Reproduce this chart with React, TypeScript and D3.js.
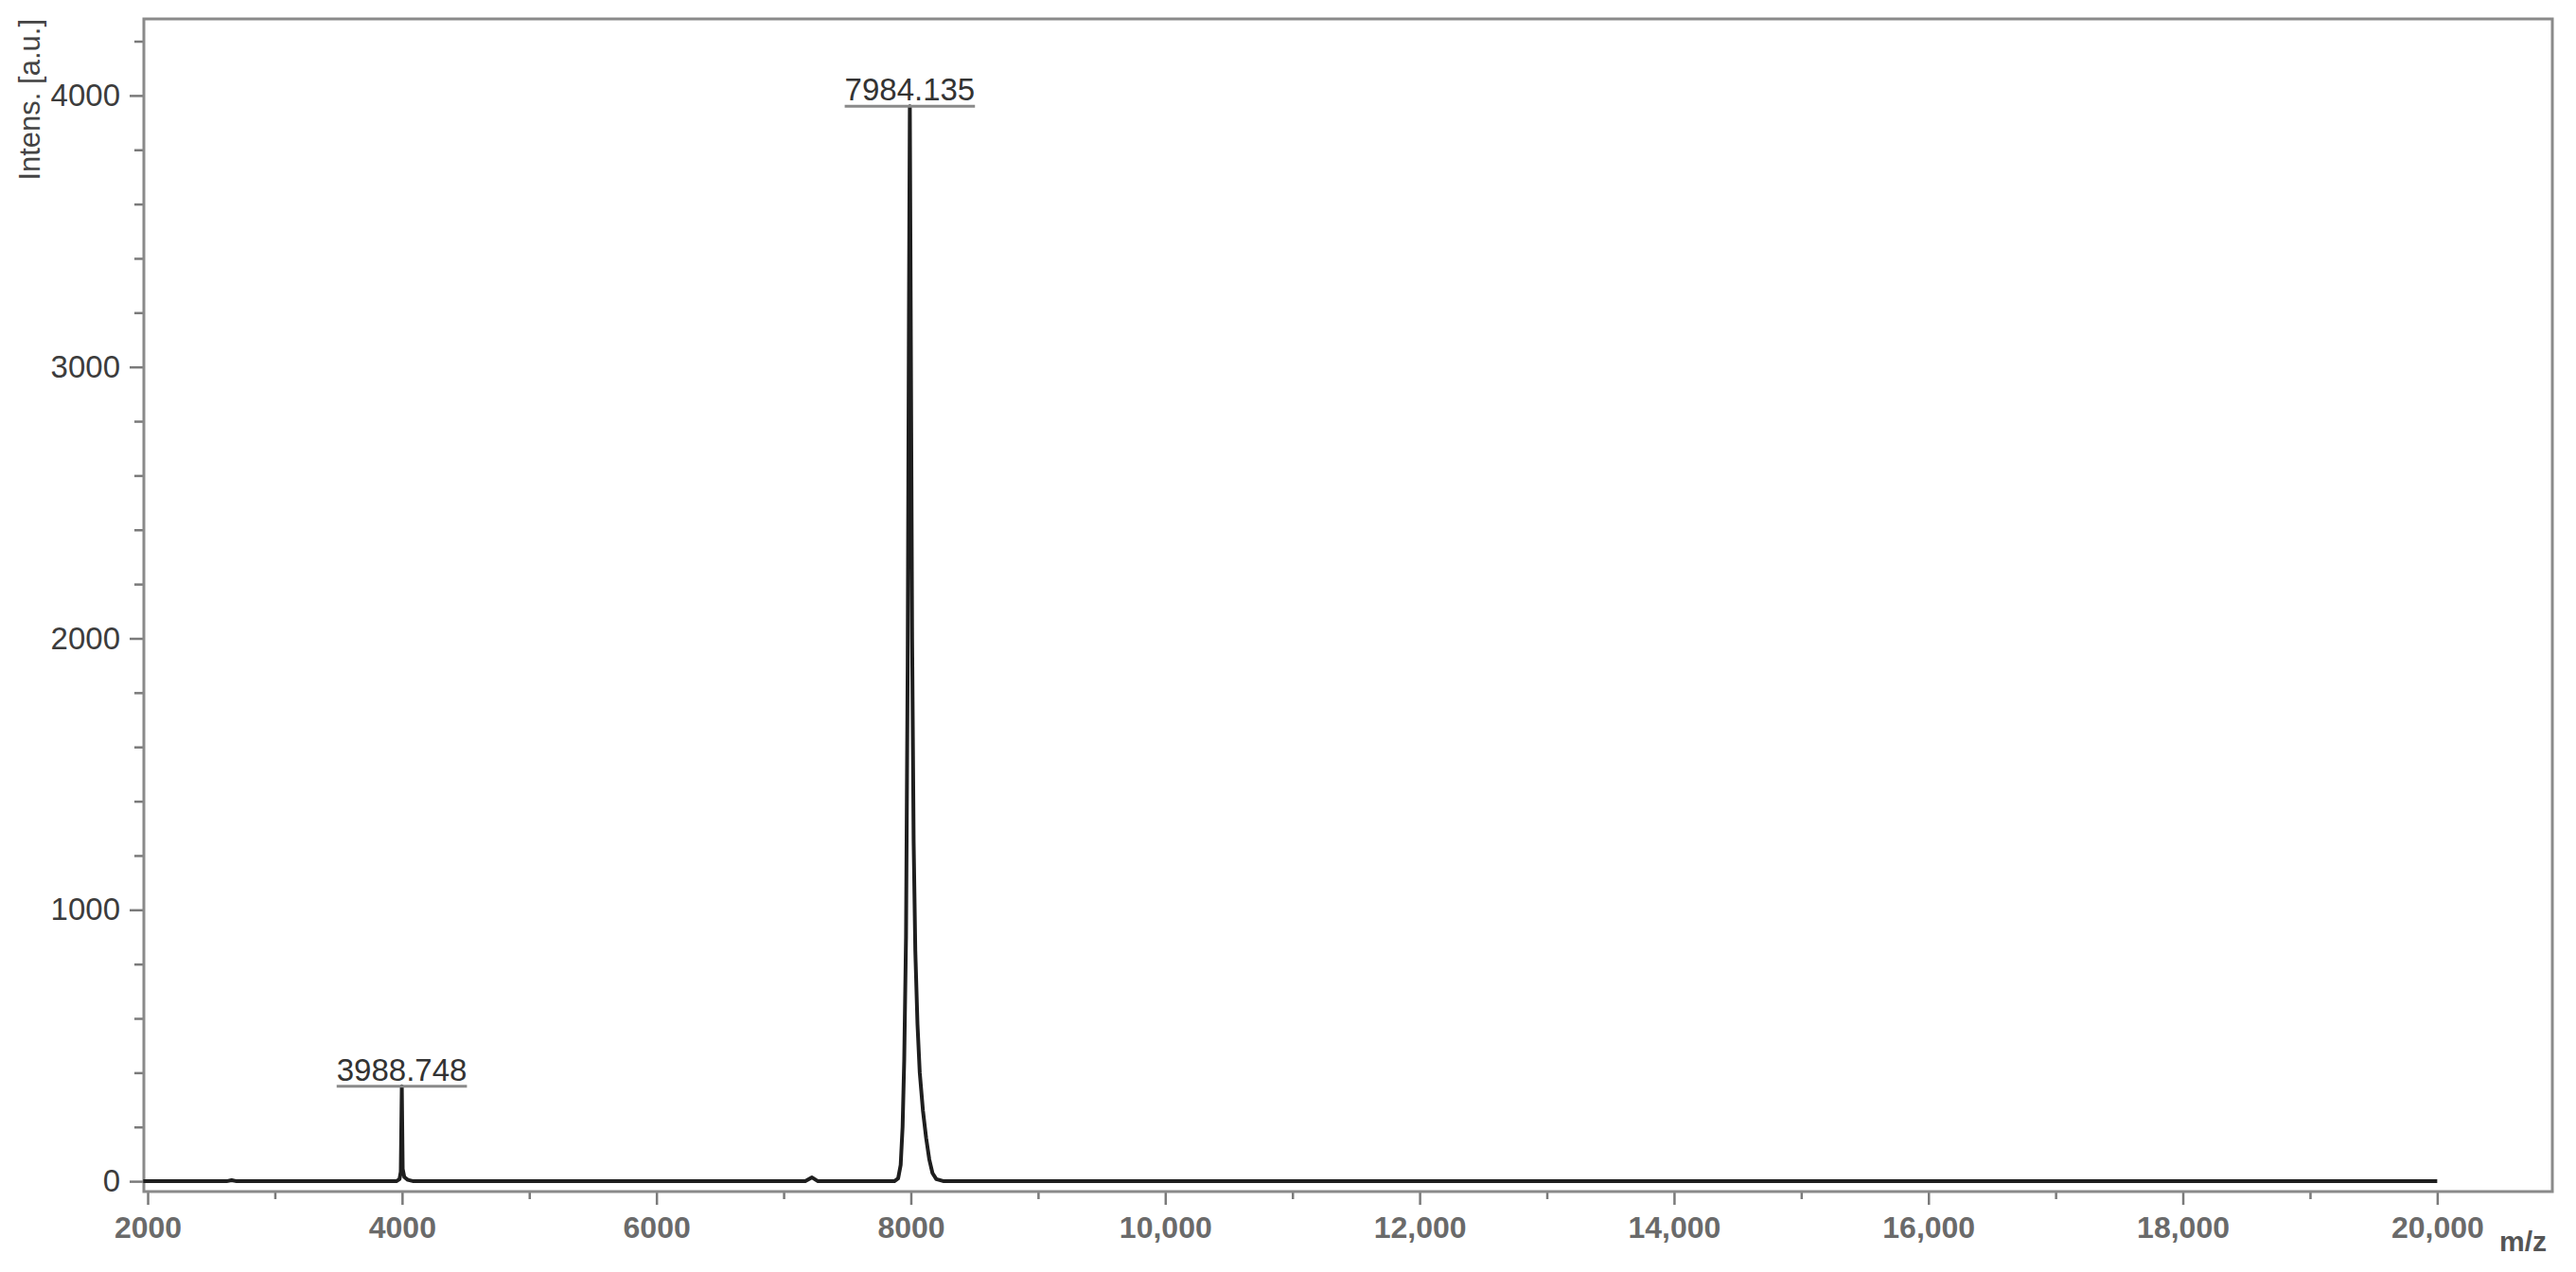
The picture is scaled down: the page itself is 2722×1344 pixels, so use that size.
import React, { useEffect, useRef } from "react";
import * as d3 from "d3";

// spectrum trace (m/z, intensity in a.u.)
const mzValues = [
  1965, 2620, 2660, 2700, 3955, 3980, 3990, 3998, 4005, 4018, 4045, 4090,
  7170, 7223, 7270, 7870, 7900, 7920, 7935, 7948, 7962, 7975, 7985, 7992,
  8000, 8010, 8022, 8035, 8052, 8070, 8095, 8120, 8145, 8170, 8200, 8260, 20000,
];
const intensityValues = [
  0, 0, 4, 0, 0, 8, 35, 350, 45, 15, 5, 0,
  0, 14, 0, 0, 10, 60, 200, 450, 900, 1900, 3200, 3960,
  3100, 2000, 1250, 850, 580, 400, 260, 160, 80, 30, 8, 0, 0,
];

// annotated peaks
const peakMz = [3998, 7992];
const peakIntensity = [350, 3960];
const peakLabels = ["3988.748", "7984.135"];

// axis ticks
const xMajorTicks = [2000, 4000, 6000, 8000, 10000, 12000, 14000, 16000, 18000, 20000];
const xMinorTicks = [3000, 5000, 7000, 9000, 11000, 13000, 15000, 17000, 19000];
const yMajorTicks = [0, 1000, 2000, 3000, 4000];
const yMinorTicks = [200, 400, 600, 800, 1200, 1400, 1600, 1800, 2200, 2400, 2600, 2800, 3200, 3400, 3600, 3800, 4200];

const FONT = "'Liberation Sans', Arial, Helvetica, sans-serif";

export default function App() {
  const ref = useRef<SVGSVGElement | null>(null);

  useEffect(() => {
    const width = 2722;
    const height = 1344;
    const left = 152, right = 2697, top = 20, bottom = 1259;

    const x = d3.scaleLinear().domain([1970, 20905]).range([left, right]);
    const y = d3.scaleLinear().domain([-38, 4282]).range([bottom, top]);

    const svg = d3.select(ref.current);
    svg.selectAll("*").remove();
    svg.attr("width", width).attr("height", height);

    svg.append("rect").attr("width", width).attr("height", height).attr("fill", "#fff");

    // x axis (major + minor)
    const gx = svg.append("g").attr("transform", `translate(0,${bottom})`);
    gx.call(
      d3.axisBottom(x)
        .tickValues(xMajorTicks)
        .tickSize(14)
        .tickPadding(12)
        .tickFormat((d) => (+d < 10000 ? String(d) : d3.format(",")(+d)))
    );
    const gxm = svg.append("g").attr("transform", `translate(0,${bottom})`);
    gxm.call(d3.axisBottom(x).tickValues(xMinorTicks).tickSize(8).tickFormat(() => ""));

    [gx, gxm].forEach((g) => {
      g.select(".domain").remove();
      g.selectAll(".tick line").attr("stroke", "#7a7a7a").attr("stroke-width", 2.5);
    });
    gx.selectAll(".tick text")
      .attr("fill", "#6a6a6a")
      .style("font-family", FONT)
      .style("font-size", "32px")
      .style("font-weight", "bold");

    // y axis (major + minor)
    const gy = svg.append("g").attr("transform", `translate(${left},0)`);
    gy.call(d3.axisLeft(y).tickValues(yMajorTicks).tickSize(15).tickPadding(10).tickFormat(d3.format("d")));
    const gym = svg.append("g").attr("transform", `translate(${left},0)`);
    gym.call(d3.axisLeft(y).tickValues(yMinorTicks).tickSize(10).tickFormat(() => ""));

    [gy, gym].forEach((g) => {
      g.select(".domain").remove();
      g.selectAll(".tick line").attr("stroke", "#7a7a7a").attr("stroke-width", 2.5);
    });
    gy.selectAll(".tick text")
      .attr("fill", "#3c3c3c")
      .style("font-family", FONT)
      .style("font-size", "33px");

    // frame
    svg.append("rect")
      .attr("x", left)
      .attr("y", top)
      .attr("width", right - left)
      .attr("height", bottom - top)
      .attr("fill", "none")
      .attr("stroke", "#8a8a8a")
      .attr("stroke-width", 3);

    // spectrum
    const pts: [number, number][] = mzValues.map((m, i) => [m, intensityValues[i]]);
    const line = d3.line<[number, number]>()
      .x((d) => x(d[0]))
      .y((d) => y(d[1]))
      .curve(d3.curveLinear);

    svg.append("path")
      .datum(pts)
      .attr("fill", "none")
      .attr("stroke", "#1e1e1e")
      .attr("stroke-width", 4)
      .attr("stroke-linejoin", "round")
      .attr("d", line);

    // peak annotations
    peakMz.forEach((m, i) => {
      const px = x(m);
      const py = y(peakIntensity[i]);
      const t = svg.append("text")
        .attr("x", px)
        .attr("y", py - 6)
        .attr("text-anchor", "middle")
        .attr("fill", "#333")
        .style("font-family", FONT)
        .style("font-size", "33px")
        .text(peakLabels[i]);
      const w = (t.node() as SVGTextElement).getComputedTextLength();
      svg.append("line")
        .attr("x1", px - w / 2)
        .attr("x2", px + w / 2)
        .attr("y1", py)
        .attr("y2", py)
        .attr("stroke", "#8a8a8a")
        .attr("stroke-width", 3);
    });

    // axis titles
    svg.append("text")
      .attr("transform", `translate(42,${top}) rotate(-90)`)
      .attr("text-anchor", "end")
      .attr("fill", "#444")
      .style("font-family", FONT)
      .style("font-size", "31px")
      .text("Intens. [a.u.]");

    svg.append("text")
      .attr("x", 2641)
      .attr("y", 1322)
      .attr("fill", "#555")
      .style("font-family", FONT)
      .style("font-size", "30px")
      .style("font-weight", "bold")
      .text("m/z");
  }, []);

  return (
    <svg
      ref={ref}
      style={{ position: "absolute", left: 0, top: 0, display: "block" }}
    />
  );
}
